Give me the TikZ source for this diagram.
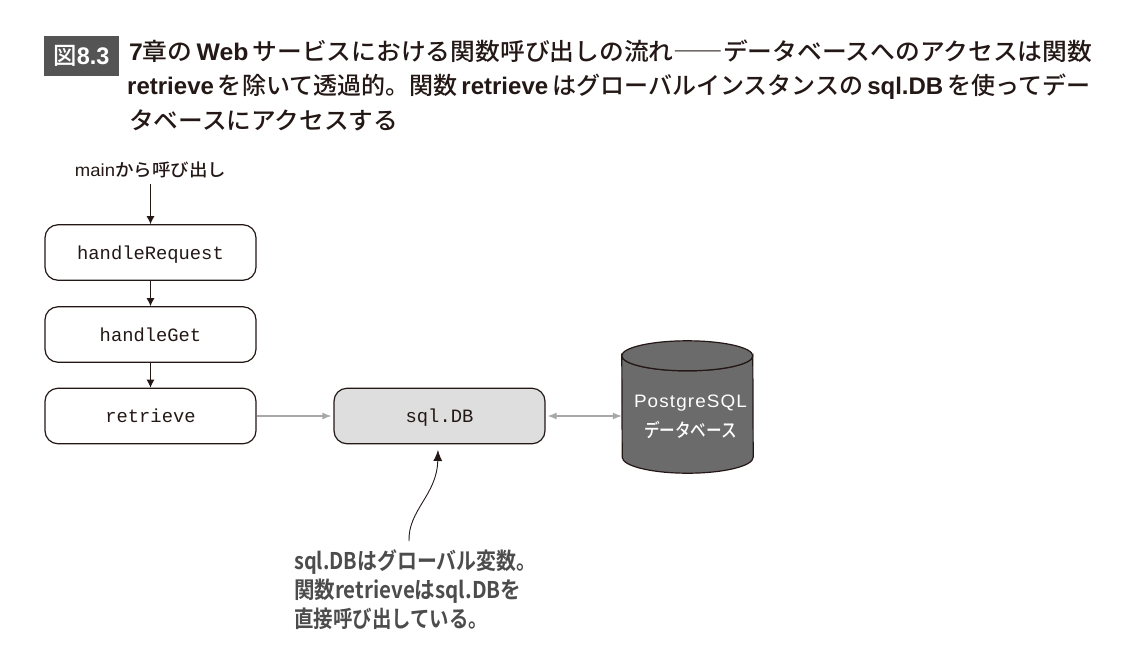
\documentclass[tikz,border=0pt]{standalone}
\usepackage{fontspec}
\usepackage{graphicx}
\usetikzlibrary{arrows.meta}
\setmainfont{Noto Sans CJK JP Medium}
\newfontfamily\notef{Noto Sans CJK JP Bold}
\newfontfamily\latn{Liberation Sans Bold}
\newfontfamily\latr{Liberation Sans}
\newfontfamily\codef{Liberation Mono}
\newcommand{\lat}[1]{{\latn #1}}
\newcommand{\fitline}[2]{\resizebox{#1pt}{\height}{#2}}
\definecolor{badge}{gray}{0.33}
\definecolor{dbfill}{gray}{0.42}
\definecolor{inkk}{HTML}{231815}
\definecolor{noteink}{gray}{0.30}
\definecolor{grayline}{gray}{0.66}
\tikzset{
  x=1pt,y=-1pt,
  fnbox/.style={draw=inkk,line width=1.2pt,rounded corners=13pt,minimum width=211pt,minimum height=55.5pt,inner sep=0pt,fill=white,text depth=0pt,font=\codef\fontsize{18.8}{20}\selectfont,text=inkk},
  callarrow/.style={draw=inkk,line width=1pt,-{Latex[length=8pt,width=8pt]}},
  dbarrow/.style={draw=grayline,line width=1.2pt,-{Latex[length=9pt,width=7pt]}},
  dbboth/.style={draw=grayline,line width=1.2pt,{Latex[length=9pt,width=7pt]}-{Latex[length=9pt,width=7pt]}},
  titletext/.style={anchor=north west,inner sep=0pt,align=left,text=inkk,font=\fontsize{24}{34.5}\selectfont},
  notetext/.style={anchor=north west,inner sep=0pt,align=left,text=noteink,font=\notef\fontsize{23}{29}\selectfont},
}
\begin{document}
\begin{tikzpicture}
\useasboundingbox (0,0) rectangle (1148,654);
\node[fill=badge,minimum width=75pt,minimum height=40pt,inner sep=0pt,text=white,font=\fontsize{24}{26}\selectfont] (badge) at (81.5,55.5) {\fitline{56}{図\lat{8.3}}};
\node[titletext] (title) at (129,39.5) {%
\fitline{963}{\lat{7}章の\,\lat{Web}\,サービスにおける関数呼び出しの流れ――データベースへのアクセスは関数}\\
\hspace*{-2pt}\fitline{963}{\lat{retrieve}\,を除いて透過的。関数\,\lat{retrieve}\,はグローバルインスタンスの\,\lat{sql.DB}\,を使ってデー}\\
\fitline{269}{タベースにアクセスする}};
\node[inner sep=0pt,text=inkk,font=\fontsize{17.5}{20}\selectfont] (mainlabel) at (150.5,170) {\fitline{151}{{\latr main}から呼び出し}};
\node[fnbox] (req) at (150.5,252.5) {handleRequest};
\node[fnbox] (get) at (150.5,334.5) {handleGet};
\node[fnbox] (ret) at (150.5,416) {retrieve};
\node[fnbox,fill=black!13] (sqldb) at (439.5,416) {sql.DB};
\node[minimum width=131pt,minimum height=132pt,inner sep=0pt] (db) at (687.5,407) {};
\draw[draw=inkk,line width=1.2pt,fill=dbfill]
  ([yshift=-15pt]db.north west) arc[start angle=180,end angle=360,x radius=65.5pt,y radius=15pt]
  -- ([yshift=16pt]db.south east) arc[start angle=360,end angle=180,x radius=65.5pt,y radius=16pt]
  -- cycle;
\draw[draw=inkk,line width=1.2pt,fill=dbfill] ([yshift=-15pt]db.north west) arc[start angle=180,end angle=-180,x radius=65.5pt,y radius=15pt];
\node[inner sep=0pt,align=center,text=white,font=\fontsize{19}{29.5}\selectfont] (dblabel) at (690.5,417) {\fitline{113}{{\latr\addfontfeature{LetterSpace=6}\fontsize{18}{20}\selectfont PostgreSQL}}\\\fitline{93}{データベース}};
\node[notetext] (note) at (294,549) {%
\fitline{242}{sql.DBはグローバル変数。}\\
\fitline{227}{関数retrieveはsql.DBを}\\
\fitline{194}{直接呼び出している。}};
\coordinate (notetop) at (409,541);
\coordinate (sqlbelow) at (438,450);
\draw[callarrow] (mainlabel.south -| req.north) ++(0,6) -- (req.north);
\draw[callarrow] (req) -- (get);
\draw[callarrow] (get) -- (ret);
\draw[dbarrow] (ret.east) -- ([xshift=-2pt]sqldb.west);
\draw[dbboth] ([xshift=2pt]sqldb.east) -- (db.west |- sqldb.east);
\draw[inkk,line width=0.9pt,-{Latex[length=11pt,width=9pt]}] (notetop) .. controls (408,510) and (437,495) .. (sqlbelow);
\end{tikzpicture}
\end{document}
